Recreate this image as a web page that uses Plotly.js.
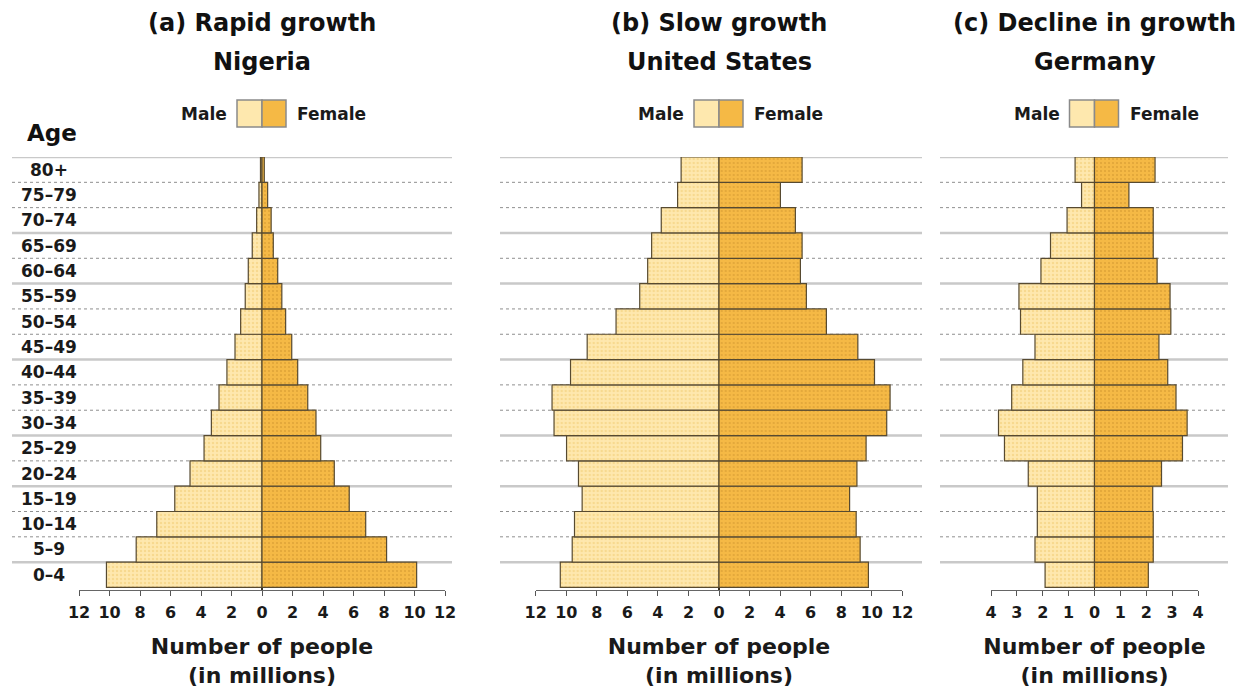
<!DOCTYPE html>
<html>
<head>
<meta charset="utf-8">
<script src="https://cdn.plot.ly/plotly-3.0.1.min.js"></script>
<style>html,body{margin:0;padding:0;background:#fff;}#chart{width:1248px;height:693px;}</style>
</head>
<body>
<div id="chart"></div>
<script>
// ---- Data (millions of people), age groups bottom -> top ----
const ageGroups = ['0–4','5–9','10–14','15–19','20–24','25–29','30–34','35–39','40–44','45–49','50–54','55–59','60–64','65–69','70–74','75–79','80+'];

const nigeriaMale   = [10.2, 8.25, 6.9, 5.72, 4.72, 3.8, 3.32, 2.82, 2.3, 1.77, 1.4, 1.1, 0.9, 0.64, 0.35, 0.2, 0.1];
const nigeriaFemale = [10.14, 8.17, 6.8, 5.72, 4.74, 3.85, 3.54, 3.0, 2.34, 1.95, 1.55, 1.3, 1.03, 0.74, 0.6, 0.37, 0.15];

const usMale   = [10.39, 9.61, 9.46, 8.96, 9.2, 9.98, 10.8, 10.93, 9.72, 8.63, 6.74, 5.19, 4.67, 4.41, 3.78, 2.71, 2.48];
const usFemale = [9.78, 9.24, 8.98, 8.55, 9.03, 9.63, 10.98, 11.2, 10.18, 9.09, 7.03, 5.72, 5.33, 5.44, 5.0, 4.02, 5.44];

const germanyMale   = [1.91, 2.3, 2.21, 2.21, 2.56, 3.48, 3.71, 3.2, 2.77, 2.3, 2.86, 2.92, 2.07, 1.7, 1.06, 0.5, 0.75];
const germanyFemale = [2.08, 2.27, 2.27, 2.25, 2.59, 3.4, 3.58, 3.15, 2.83, 2.49, 2.95, 2.92, 2.42, 2.27, 2.27, 1.33, 2.34];

const panelTitles = [['(a) Rapid growth','Nigeria'], ['(b) Slow growth','United States'], ['(c) Decline in growth','Germany']];
const bigTickVals  = [-12,-10,-8,-6,-4,-2,0,2,4,6,8,10,12];
const bigTickText  = ['12','10','8','6','4','2','0','2','4','6','8','10','12'];
const smallTickVals = [-4,-3,-2,-1,0,1,2,3,4];
const smallTickText = ['4','3','2','1','0','1','2','3','4'];
const axisTitle = 'Number of people<br>(in millions)';
const legendMale = 'Male', legendFemale = 'Female', ageLabel = 'Age';

// ---- Styles ----
const FONT = 'DejaVu Sans, Liberation Sans, Arial, sans-serif';
const MALE_COLOR = '#FEE8AE';
const FEMALE_COLOR = '#F5B945';
const EDGE = '#574a30';
const W = 1248, H = 693;
const px = v => v / W;
const py = v => 1 - v / H;

const panels = [
  {male: nigeriaMale, female: nigeriaFemale, range: [-12, 12], tv: bigTickVals, tt: bigTickText, dom: [px(79), px(445)], grid: [px(12), px(452)]},
  {male: usMale, female: usFemale, range: [-12, 12], tv: bigTickVals, tt: bigTickText, dom: [px(535.7), px(902.3)], grid: [px(500), px(922)]},
  {male: germanyMale, female: germanyFemale, range: [-4, 4], tv: smallTickVals, tt: smallTickText, dom: [px(991), px(1198)], grid: [px(940), px(1228)]}
];

const yDomain = [py(590), py(157)];
const yRange = [-0.6, 16.5];

const data = [];
const layout = {
  width: W, height: H,
  margin: {l: 0, r: 0, t: 0, b: 0},
  paper_bgcolor: '#ffffff',
  plot_bgcolor: 'rgba(0,0,0,0)',
  showlegend: false,
  barmode: 'overlay',
  bargap: 0,
  font: {family: FONT, color: '#1a1a1a', weight: 'bold'},
  shapes: [],
  annotations: []
};

const solidBoundaries = [16.5, 13.5, 11.5, 8.5, 5.5, 3.5, 0.5];

panels.forEach((p, i) => {
  const n = i + 1;
  const xa = n === 1 ? 'x' : 'x' + n;
  const ya = n === 1 ? 'y' : 'y' + n;
  data.push({
    type: 'bar', orientation: 'h', y: ageGroups, x: p.male.map(v => -v),
    xaxis: xa, yaxis: ya, name: 'Male',
    marker: {color: MALE_COLOR, line: {color: EDGE, width: 1.2},
             pattern: {shape: '.', fillmode: 'overlay', fgcolor: '#efc96f', bgcolor: MALE_COLOR, size: 4, solidity: 0.3}},
    hovertemplate: '%{y}: %{customdata}<extra>Male</extra>', customdata: p.male
  });
  data.push({
    type: 'bar', orientation: 'h', y: ageGroups, x: p.female,
    xaxis: xa, yaxis: ya, name: 'Female',
    marker: {color: FEMALE_COLOR, line: {color: EDGE, width: 1.2},
             pattern: {shape: '.', fillmode: 'overlay', fgcolor: '#c98f2c', bgcolor: FEMALE_COLOR, size: 4, solidity: 0.22}},
    hovertemplate: '%{y}: %{x}<extra>Female</extra>'
  });

  layout['xaxis' + (n === 1 ? '' : n)] = {
    domain: p.dom, range: p.range, anchor: ya,
    tickvals: p.tv, ticktext: p.tt, ticks: 'outside', ticklen: 5, tickwidth: 1, tickcolor: '#555',
    ticklabelstandoff: 3,
    showline: true, linecolor: '#666', linewidth: 1,
    showgrid: false, zeroline: true, zerolinecolor: '#3a3322', zerolinewidth: 1.5,
    tickfont: {family: FONT, size: 16, color: '#1a1a1a', weight: 'bold'},
    title: {text: axisTitle, standoff: 17, font: {family: FONT, size: 22, color: '#1a1a1a', weight: 'bold'}},
    fixedrange: true
  };
  layout['yaxis' + (n === 1 ? '' : n)] = {
    domain: yDomain, range: yRange, anchor: xa, type: 'category',
    showticklabels: false, ticks: '', showgrid: false, zeroline: false, showline: false,
    fixedrange: true
  };

  // row separators
  for (let k = 0; k < ageGroups.length; k++) {
    const yb = k + 0.5;
    const solid = solidBoundaries.includes(yb);
    layout.shapes.push({
      type: 'line', layer: 'below', xref: 'paper', yref: ya,
      x0: p.grid[0], x1: p.grid[1], y0: yb, y1: yb,
      line: solid ? {color: '#c9c9c9', width: 2.5} : {color: '#8f8f8f', width: 1, dash: 'dot'}
    });
  }

  // legend swatches centered at zero
  layout.shapes.push({
    type: 'rect', xref: xa, yref: 'paper', xsizemode: 'pixel', xanchor: 0,
    x0: -25, x1: 0, y0: py(127), y1: py(100),
    fillcolor: MALE_COLOR, line: {color: '#8a8a8a', width: 1.5}
  });
  layout.shapes.push({
    type: 'rect', xref: xa, yref: 'paper', xsizemode: 'pixel', xanchor: 0,
    x0: 0, x1: 24, y0: py(127), y1: py(100),
    fillcolor: FEMALE_COLOR, line: {color: '#8a8a8a', width: 1.5}
  });
  layout.annotations.push({
    xref: xa, yref: 'paper', x: 0, y: py(114), xanchor: 'right', yanchor: 'middle', xshift: -33,
    text: legendMale, showarrow: false, font: {family: FONT, size: 17, color: '#1a1a1a', weight: 'bold'}
  });
  layout.annotations.push({
    xref: xa, yref: 'paper', x: 0, y: py(114), xanchor: 'left', yanchor: 'middle', xshift: 33,
    text: legendFemale, showarrow: false, font: {family: FONT, size: 17, color: '#1a1a1a', weight: 'bold'}
  });

  // panel titles
  layout.annotations.push({
    xref: xa, yref: 'paper', x: 0, y: py(23), xanchor: 'center', yanchor: 'middle',
    text: panelTitles[i][0], showarrow: false, font: {family: FONT, size: 24, color: '#111', weight: 'bold'}
  });
  layout.annotations.push({
    xref: xa, yref: 'paper', x: 0, y: py(62), xanchor: 'center', yanchor: 'middle',
    text: panelTitles[i][1], showarrow: false, font: {family: FONT, size: 24, color: '#111', weight: 'bold'}
  });
});

// age labels (left of first panel)
ageGroups.forEach(a => {
  layout.annotations.push({
    xref: 'paper', yref: 'y', x: px(49), y: a, xanchor: 'center', yanchor: 'middle',
    text: a, showarrow: false, font: {family: FONT, size: 17, color: '#1a1a1a', weight: 'bold'}
  });
});
layout.annotations.push({
  xref: 'paper', yref: 'paper', x: px(52), y: py(133), xanchor: 'center', yanchor: 'middle',
  text: ageLabel, showarrow: false, font: {family: FONT, size: 23, color: '#111', weight: 'bold'}
});

Plotly.newPlot('chart', data, layout, {displayModeBar: false, staticPlot: true});
</script>
</body>
</html>
